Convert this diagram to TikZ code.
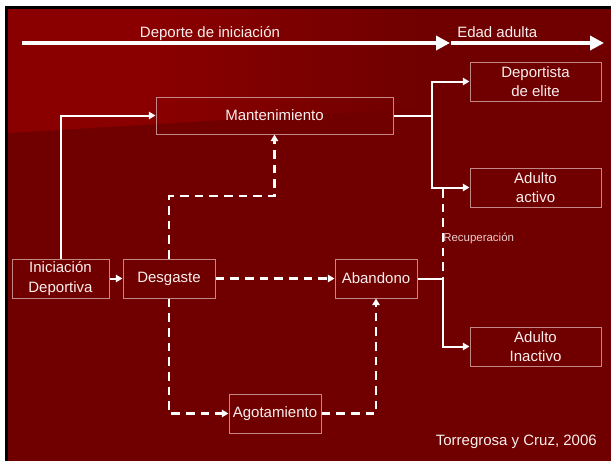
\documentclass[tikz,border=0pt]{standalone}
\usepackage{fontspec}
\setmainfont{Liberation Sans}
\usetikzlibrary{arrows.meta}
\definecolor{bgdark}{RGB}{112,0,0}
\definecolor{bglight}{RGB}{138,0,0}
\definecolor{boxline}{RGB}{195,135,135}
\definecolor{txt}{RGB}{250,238,238}
\definecolor{rectxt}{RGB}{235,205,205}
\begin{document}
\begin{tikzpicture}[x=0.75pt,y=-0.75pt,
  box/.style={draw=boxline, line width=0.75pt, text=txt, inner sep=0pt, align=center,
    minimum height=29.25pt, font=\fontsize{11.25}{14.5}\selectfont},
  lbl/.style={text=txt, inner sep=0pt, font=\fontsize{11.25}{14.5}\selectfont},
  conn/.style={draw=white, line width=1.5pt, -{Triangle[length=5pt,width=5.5pt]}},
  dconn/.style={conn, line width=1.75pt, dash pattern=on 6.5pt off 4.5pt},
  dline/.style={draw=white, line width=1.75pt, dash pattern=on 6.5pt off 4.5pt},
  sline/.style={draw=white, line width=1.5pt},
  bigarrow/.style={draw=white, line width=3pt, -{Triangle[length=10.5pt,width=10.5pt]}}]
\useasboundingbox (0,0) rectangle (611,461);
% background
\fill[white] (0,0) rectangle (611,461);
\fill[black] (5,6) rectangle (611,461);
\fill[bgdark] (8,9) rectangle (611,461);
\fill[bglight] (8,9) -- (150,9) -- (150,124.5) -- (8,133) -- cycle;
\shade[left color=bglight, right color=bgdark] (150,9) -- (420,9) -- (420,108.3) -- (150,124.5) -- cycle;

% top arrows
\coordinate (a1s) at (22,43);
\coordinate (a1e) at (450,43);
\coordinate (a2s) at (451,43);
\coordinate (a2e) at (604,43);
\draw[bigarrow] (a1s) -- (a1e);
\draw[bigarrow] (a2s) -- (a2e);
\node[lbl, anchor=base] (t1) at (210,37) {Deporte de iniciación};
\node[lbl, anchor=base west] (t2) at (457,37) {Edad adulta};

% nodes
\node[box, minimum width=72.75pt] (ini) at (60.5,278.5) {Iniciación\\Deportiva};
\node[box, minimum width=69pt] (des) at (169,278.5) {Desgaste};
\node[box, minimum width=61.5pt] (aba) at (376,278.5) {Abandono};
\node[box, minimum width=177.75pt, minimum height=27.75pt] (man) at (274.5,115.5) {Mantenimiento};
\node[box, minimum width=98.25pt] (eli) at (535.5,81.5) {Deportista\\de elite};
\node[box, minimum width=98.25pt] (act) at (535.5,187.5) {Adulto\\activo};
\node[box, minimum width=98.25pt] (ina) at (535.5,346.5) {Adulto\\Inactivo};
\node[box, minimum width=69pt] (ago) at (275,413.5) {Agotamiento};

% solid connectors
\draw[conn] (ini.north) |- (man.west);
\draw[conn] (ini.east) -- (des.west);
\coordinate (j1) at (432,115.5);
\draw[sline] (man.east) -- (j1);
\draw[conn] (j1) |- (eli.west);
\draw[conn] (j1) |- (act.west);
\coordinate (j2) at (443,278.5);
\draw[sline] (aba.east) -- (j2);
\draw[conn] (j2) |- (ina.west);

% dashed connectors
\draw[dconn] (des.east) -- (aba.west);
\draw[dconn] (des.north) |- (man.south |- 0,196) -- (man.south);
\draw[dconn] (des.south) |- (ago.west);
\draw[dconn] (ago.east) -| (aba.south);
\coordinate (r1) at (443,189);
\draw[dline] (r1) -- (j2);
\node[anchor=west, inner sep=0pt, text=rectxt, font=\fontsize{8.6}{10}\selectfont] (rec) at (443,238) {Recuperación};

\node[lbl, anchor=base east] (ref) at (597,445) {Torregrosa y Cruz, 2006};
\end{tikzpicture}
\end{document}
